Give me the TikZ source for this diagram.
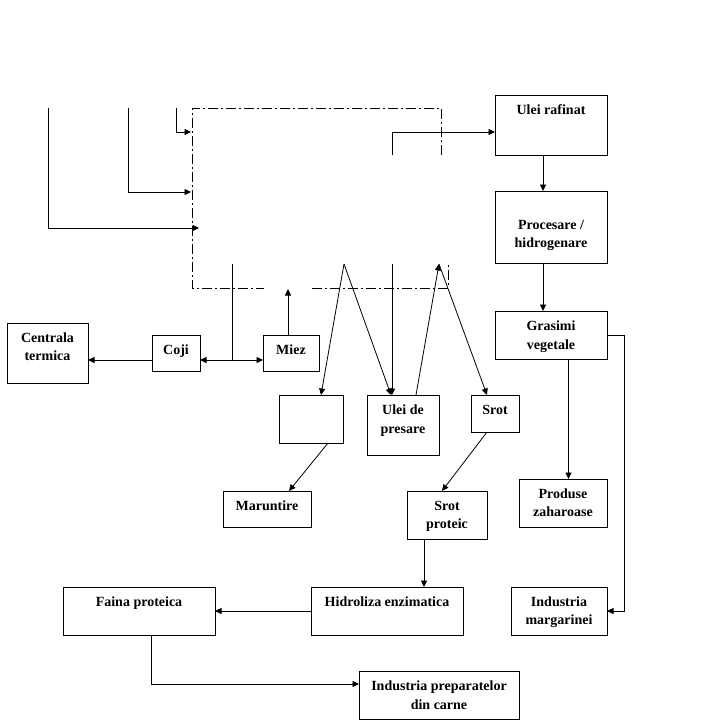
\documentclass[tikz,border=0pt]{standalone}
\usepackage{fontspec}
\setmainfont{Liberation Serif}
\usetikzlibrary{arrows.meta}
\begin{document}
\begin{tikzpicture}[x=1pt,y=-1pt,
  box/.style={draw,line width=0.8pt,inner sep=0pt,outer sep=0pt,anchor=north west},
  lbl/.style={font=\bfseries\fontsize{14}{18.4}\selectfont,align=center,inner sep=0pt},
  conn/.style={line width=0.8pt},
  arr/.style={conn,-{Triangle[length=6.5pt,width=6pt]}},
  arrtwo/.style={conn,{Triangle[length=6.5pt,width=6pt]}-{Triangle[length=6.5pt,width=6pt]}},
  dd/.style={line width=0.8pt,dash pattern=on 10pt off 3pt on 2pt off 3pt}]
\useasboundingbox (0,0) rectangle (728,723);

% boxes
\node[box,minimum width=112,minimum height=60] (ur) at (495,95) {};
\node[box,minimum width=112,minimum height=72] (proc) at (495,191) {};
\node[box,minimum width=112,minimum height=48] (gras) at (495,311) {};
\node[box,minimum width=81,minimum height=60] (cent) at (7,323) {};
\node[box,minimum width=48,minimum height=36] (coji) at (152,335) {};
\node[box,minimum width=56,minimum height=36] (miez) at (263,335) {};
\node[box,minimum width=64,minimum height=48] (blank) at (279,395) {};
\node[box,minimum width=72,minimum height=60] (udp) at (367,395) {};
\node[box,minimum width=48,minimum height=37] (srot) at (471,395) {};
\node[box,minimum width=88,minimum height=36] (mar) at (223,491) {};
\node[box,minimum width=80,minimum height=48] (sp) at (407,491) {};
\node[box,minimum width=88,minimum height=48] (pz) at (519,479) {};
\node[box,minimum width=152,minimum height=48] (hid) at (311,587) {};
\node[box,minimum width=96,minimum height=48] (im) at (511,587) {};
\node[box,minimum width=152,minimum height=48] (faina) at (63,587) {};
\node[box,minimum width=160,minimum height=48] (ipc) at (359,671) {};

% labels
\node[lbl] (urt) at (551,111) {\strut Ulei rafinat};
\node[lbl] (proct) at (551,235) {\strut Procesare /\\\strut hidrogenare};
\node[lbl] (grast) at (551,336.5) {\strut Grasimi\\\strut vegetale};
\node[lbl] (centt) at (47.5,348) {\strut Centrala\\\strut termica};
\node[lbl] (cojit) at (176,351) {\strut Coji};
\node[lbl] (miezt) at (291,351) {\strut Miez};
\node[lbl] (udpt) at (403,420.5) {\strut Ulei de\\\strut presare};
\node[lbl] (srott) at (495,411) {\strut Srot};
\node[lbl] (mart) at (267,507) {\strut Maruntire};
\node[lbl] (spt) at (447,516) {\strut Srot\\\strut proteic};
\node[lbl] (pzt) at (563,504) {\strut Produse\\\strut zaharoase};
\node[lbl] (hidt) at (387,603) {\strut Hidroliza enzimatica};
\node[lbl] (imt) at (559,612) {\strut Industria\\\strut margarinei};
\node[lbl] (fainat) at (139,603) {\strut Faina proteica};
\node[lbl] (ipct) at (439,696.5) {\strut Industria preparatelor\\\strut din carne};

% free ends
\coordinate (s1) at (48,108);
\coordinate (e1) at (199,228);
\coordinate (s2) at (128,108);
\coordinate (e2) at (191,192);
\coordinate (s3) at (176,108);
\coordinate (e3) at (191,132);
\coordinate (s4) at (392,155);
\coordinate (s5) at (232,264);
\coordinate (e5) at (232,360);
\coordinate (e6) at (288,289);
\coordinate (a1) at (344,264);
\coordinate (s7) at (392,264);
\coordinate (a2) at (439,264);

% dash-dot enclosure
\draw[dd] (441,155) -- (441,108) -- (192,108) -- (192,288) -- (264,288);
\draw[dd] (312,288) -- (448,288) -- (448,264);

% connectors
\draw[arr] (s1) |- (e1);
\draw[arr] (s2) |- (e2);
\draw[arr] (s3) |- (e3);
\draw[arr] (s4) |- ([yshift=-7pt]ur.west);
\draw[arr] ([xshift=-8pt]ur.south) -- ([xshift=-8pt]proc.north);
\draw[arr] ([xshift=-8pt]proc.south) -- ([xshift=-8pt]gras.north);
\draw[arr] ([xshift=17.5pt]gras.south) -- ([xshift=17.5pt]gras.south |- pz.north);
\draw[arr] (gras.east) -| ([xshift=17pt]im.east) -- (im.east);
\draw[arr] ([xshift=-23pt]sp.south) -- ([xshift=-23pt]sp.south |- hid.north);
\draw[arr] (hid.west) -- (faina.east);
\draw[arr] ([xshift=12.5pt]faina.south) |- ([yshift=11pt]ipc.west);
\draw[arr] ([yshift=-7pt]coji.west) -- ([yshift=-7pt]coji.west -| cent.east);
\draw[arrtwo] ([yshift=-7pt]coji.east) -- ([yshift=-7pt]coji.east -| miez.west);
\draw[conn] (s5) -- (e5);
\draw[arr] ([xshift=-3pt]miez.north) -- (e6);
\draw[arr] (a1) -- ([xshift=10pt]blank.north);
\draw[arr] (a1) -- ([xshift=-12pt]udp.north);
\draw[arr] (s7) -- ([xshift=-11pt]udp.north);
\draw[arr] ([xshift=13pt]udp.north) -- (a2);
\draw[arr] (a2) -- ([xshift=-8pt]srot.north);
\draw[arr] ([xshift=17pt]blank.south) -- ([xshift=22pt]mar.north);
\draw[arr] ([xshift=-8pt]srot.south) -- ([xshift=-5pt]sp.north);
\end{tikzpicture}
\end{document}
